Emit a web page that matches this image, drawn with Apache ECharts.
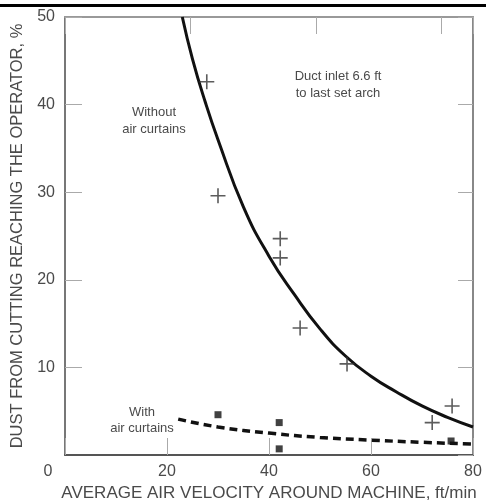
<!DOCTYPE html>
<html>
<head>
<meta charset="utf-8">
<script src="https://cdn.jsdelivr.net/npm/echarts@6/dist/echarts.min.js"></script>
<style>
  html, body { margin: 0; padding: 0; background: #fff; }
  #chart { width: 486px; height: 501px; }
</style>
</head>
<body>
<div id="chart"></div>
<script>
// points
const withoutPoints = [[27.8, 42.6], [30, 29.6], [42.2, 24.7], [42.2, 22.5], [46.1, 14.5], [55.3, 10.4], [72, 3.7], [75.9, 5.6]];
const withPoints = [[30, 4.6], [42, 3.7], [42, 0.7], [75.7, 1.6]];
const withoutCurve = [[23, 50], [25, 45.2], [27.5, 40.3], [30, 36.0], [35, 28.3], [40, 22.7], [45, 18.3], [50, 14.4], [55, 11.3], [60, 9.0], [65, 7.2], [70, 5.6], [75, 4.3], [80, 3.2]];
const withCurve = [[22.2, 4.1], [30, 3.2], [40, 2.5], [50, 2.0], [60, 1.7], [70, 1.45], [80, 1.25]];
const xTicks = [0, 20, 40, 60, 80];
const yTicks = [0, 10, 20, 30, 40, 50];

const font = "Liberation Sans, Arial, sans-serif";
const grey = "#4a4a4a";

const chart = echarts.init(document.getElementById("chart"));
chart.setOption({
  animation: false,
  grid: { left: 65, right: 13, top: 17, bottom: 46, outerBoundsMode: "none" },
  xAxis: [{
    type: "value",
    min: xTicks[0], max: xTicks[xTicks.length - 1], interval: 20,
    position: "bottom",
    name: "AVERAGE AIR VELOCITY AROUND MACHINE, ft/min",
    nameLocation: "middle", nameGap: 28,
    nameTextStyle: { fontFamily: font, fontSize: 17, color: grey },
    axisLine: { onZero: false, lineStyle: { color: "#555", width: 2 } },
    axisTick: { inside: true, length: 17, lineStyle: { color: "#aaa" } },
    axisLabel: {
      margin: 9, fontFamily: font, fontSize: 16, color: grey,
      formatter: v => v === 0 ? "{z|0}" : String(v),
      rich: { z: { fontFamily: font, fontSize: 16, color: grey, padding: [0, 34, 0, 0] } }
    },
    splitLine: { show: false }
  }, {
    // top axis (m/s) only shows tick marks
    type: "value",
    min: 0, max: 80 / 196.85, interval: 0.125,
    position: "top",
    axisLine: { show: true, onZero: false, lineStyle: { color: "#999", width: 2 } },
    axisTick: { inside: true, length: 17, lineStyle: { color: "#aaa" } },
    axisLabel: { show: false },
    splitLine: { show: false }
  }],
  yAxis: [{
    type: "value",
    min: yTicks[0], max: yTicks[yTicks.length - 1], interval: 10,
    position: "left",
    name: "DUST FROM CUTTING REACHING THE OPERATOR, %",
    nameLocation: "middle", nameGap: 37,
    nameTextStyle: { fontFamily: font, fontSize: 16.5, color: grey },
    axisLine: { show: true, onZero: false, lineStyle: { color: "#777", width: 2 } },
    axisTick: { inside: true, length: 17, lineStyle: { color: "#aaa" } },
    axisLabel: { margin: 10, showMinLabel: false, fontFamily: font, fontSize: 16, color: grey },
    splitLine: { show: false }
  }, {
    type: "value",
    min: 0, max: 50, interval: 10,
    position: "right",
    axisLine: { show: true, onZero: false, lineStyle: { color: "#888", width: 2 } },
    axisTick: { inside: true, length: 15, lineStyle: { color: "#aaa" } },
    axisLabel: { show: false },
    splitLine: { show: false }
  }],
  series: [{
    type: "line",
    data: withoutCurve,
    smooth: true,
    showSymbol: false,
    lineStyle: { color: "#111", width: 3 },
    z: 3
  }, {
    type: "line",
    data: withCurve,
    smooth: true,
    showSymbol: false,
    lineStyle: { color: "#111", width: 3.5, type: [8, 5] },
    z: 3
  }, {
    type: "scatter",
    data: withoutPoints,
    symbol: "path://M0,5L10,5M5,0L5,10",
    symbolSize: 15,
    itemStyle: { color: "transparent", borderColor: "#333", borderWidth: 1.6 },
    z: 4
  }, {
    type: "scatter",
    data: withPoints,
    symbol: "rect",
    symbolSize: 7,
    itemStyle: { color: "#111" },
    z: 4
  }],
  graphic: [
    { type: "rect", shape: { x: 0, y: 4, width: 486, height: 3 }, style: { fill: "#000" } },
    { type: "text", x: 338, y: 85, style: { text: "Duct inlet 6.6 ft\nto last set arch", font: "13px " + font, fill: grey, align: "center", verticalAlign: "middle", lineHeight: 17 } },
    { type: "text", x: 154, y: 121, style: { text: "Without\nair curtains", font: "13px " + font, fill: grey, align: "center", verticalAlign: "middle", lineHeight: 17 } },
    { type: "text", x: 142, y: 420, style: { text: "With\nair curtains", font: "13px " + font, fill: grey, align: "center", verticalAlign: "middle", lineHeight: 16 } }
  ]
});
</script>
</body>
</html>
